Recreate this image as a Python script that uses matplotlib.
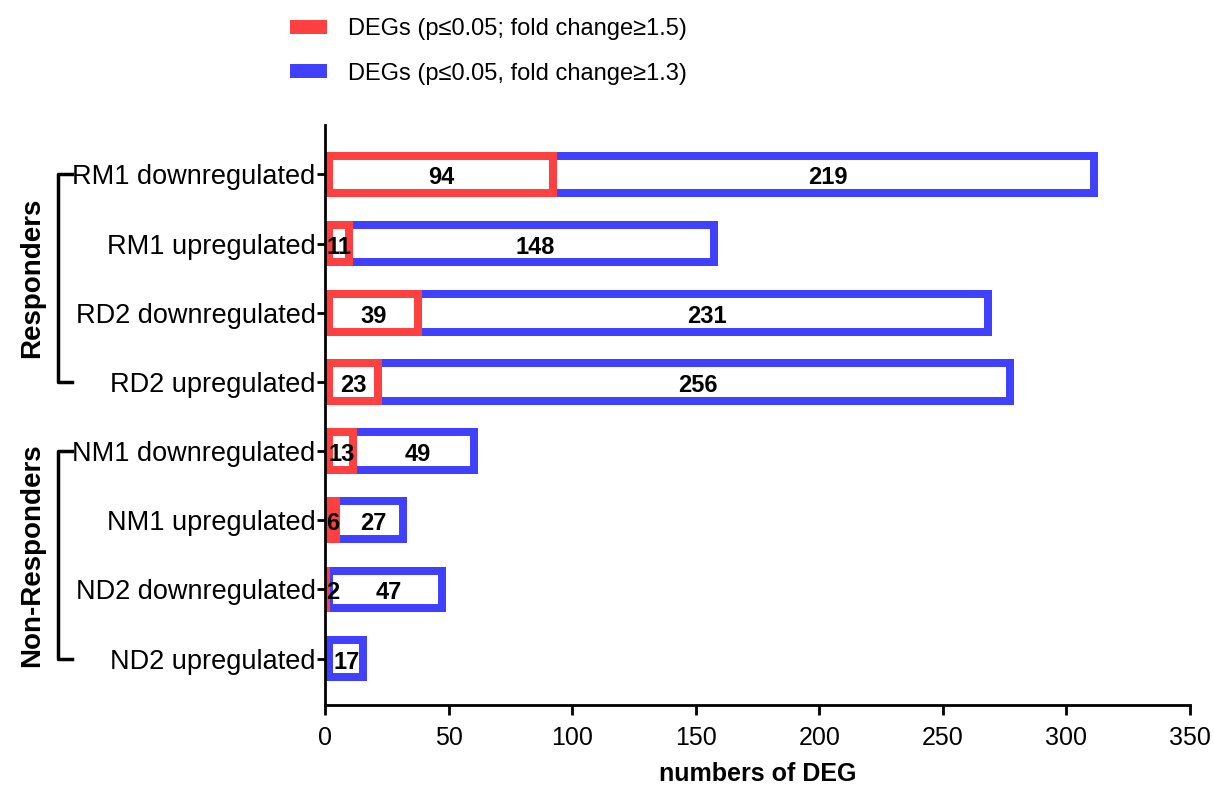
import numpy as np
import matplotlib.pyplot as plt
from matplotlib.patches import Patch

plt.rcParams['font.family'] = ['Liberation Sans', 'DejaVu Sans']

categories = ['RM1 downregulated', 'RM1 upregulated', 'RD2 downregulated', 'RD2 upregulated',
              'NM1 downregulated', 'NM1 upregulated', 'ND2 downregulated', 'ND2 upregulated']
deg_15 = [94, 11, 39, 23, 13, 6, 2, 0]
deg_13 = [219, 148, 231, 256, 49, 27, 47, 17]
groups = [('Responders', 0, 3), ('Non-Responders', 4, 7)]

red = '#FF4040'
blue = '#4040FF'

fig = plt.figure(figsize=(12.14, 7.89), dpi=100)
ax = fig.add_axes([0.268, 0.1065, 0.712, 0.7355])

y = np.arange(len(categories))
total = np.array(deg_15) + np.array(deg_13)
h = 0.66
lw = 11.5  # doubled, half of it is clipped away so the stroke sits inside the bar
# blue box spans the whole stack, red box is laid over its left part
b13 = ax.barh(y, total, height=h, color='white', edgecolor=blue, linewidth=lw)
b15 = ax.barh(y, deg_15, height=h, color='white', edgecolor=red, linewidth=lw)
for r in list(b13) + list(b15):
    r.set_clip_path(r)
    if r.get_width() == 0:
        r.set_visible(False)

# numbers inside each segment
for i in range(len(categories)):
    if deg_15[i] > 0:
        ax.text(max(deg_15[i] / 2, 3), y[i] + 0.05, str(deg_15[i]), ha='center', va='center',
                fontsize=17, fontweight='bold')
    ax.text(deg_15[i] + deg_13[i] / 2, y[i] + 0.05, str(deg_13[i]), ha='center', va='center',
            fontsize=17, fontweight='bold')

ax.set_xlim(0, 350)
ax.set_ylim(7.67, -0.72)
ax.set_xticks(np.arange(0, 351, 50))
ax.set_yticks(y)
ax.set_yticklabels(categories, fontsize=19.5)
ax.tick_params(axis='x', labelsize=18, width=2, length=7, pad=8)
ax.tick_params(axis='y', width=2, length=6, pad=1)
ax.set_xlabel('numbers of DEG', fontsize=18, fontweight='bold', labelpad=9)
for s in ['top', 'right']:
    ax.spines[s].set_visible(False)
for s in ['left', 'bottom']:
    ax.spines[s].set_linewidth(2)
    ax.spines[s].set_zorder(5)

# group brackets on the left
fy = lambda v: fig.transFigure.inverted().transform((0, v))[1]
for name, a, b in groups:
    ya = fy(ax.transData.transform((0, y[a]))[1])
    yb = fy(ax.transData.transform((0, y[b]))[1])
    x0, x1 = 58 / 1214, 72 / 1214
    fig.add_artist(plt.Line2D([x1, x0, x0, x1], [ya, ya, yb, yb], color='black', lw=2.5))
    fig.text(32 / 1214, (ya + yb) / 2, name, rotation=90, ha='center', va='center',
             fontsize=20, fontweight='bold')

# legend
handles = [Patch(facecolor=red, label='DEGs (p\u22640.05; fold change\u22651.5)'),
           Patch(facecolor=blue, label='DEGs (p\u22640.05, fold change\u22651.3)')]
fig.legend(handles=handles, loc='upper left', bbox_to_anchor=(269 / 1214, 1.004), frameon=False,
           fontsize=17, handlelength=1.55, handleheight=0.55, labelspacing=0.95, handletextpad=0.9)

fig.savefig('out.png', dpi=100)
